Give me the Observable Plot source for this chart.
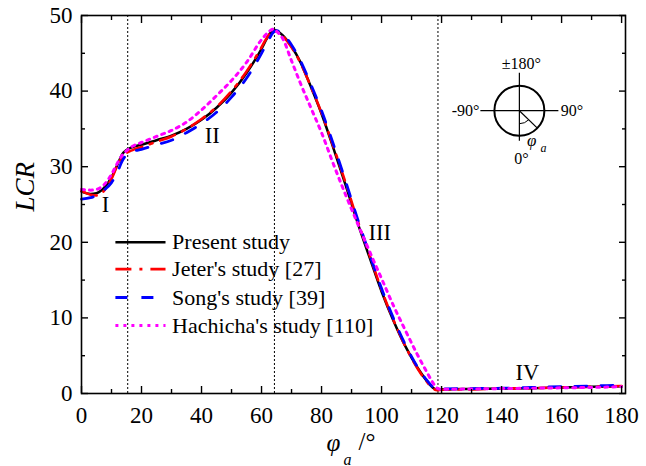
<!DOCTYPE html>
<html>
<head>
<meta charset="utf-8">
<script src="https://cdn.jsdelivr.net/npm/d3@7"></script>
<script src="https://cdn.jsdelivr.net/npm/@observablehq/plot@0.6"></script>
<style>
  html, body { margin: 0; padding: 0; background: #ffffff; }
  #chart { width: 646px; height: 466px; }
</style>
</head>
<body>
<div id="chart"></div>
<script>
// ---- Data ----
const phi = [0, 3, 5, 7.5, 10, 12, 13.5, 15, 17, 20, 25, 30, 35, 40, 45, 50, 55, 60, 62, 64, 65, 67, 70, 73, 76, 80, 84, 88, 92, 96, 100, 104, 108, 112, 115, 117, 118.5, 120, 130, 140, 150, 160, 170, 180];

const present = [26.7, 26.4, 26.5, 27.2, 28.6, 30.3, 31.6, 32.2, 32.6, 32.9, 33.5, 34.1, 35.0, 36.2, 37.8, 39.8, 42.4, 45.6, 47.1, 48.1, 48.0, 47.4, 45.9, 43.8, 41.0, 37.0, 32.4, 27.6, 22.6, 18.0, 13.5, 9.6, 6.2, 3.4, 1.7, 0.8, 0.5, 0.55, 0.6, 0.65, 0.7, 0.8, 0.9, 0.95];
const jeter   = [26.8, 26.3, 26.2, 26.8, 28.4, 30.2, 31.2, 31.8, 32.2, 32.6, 33.3, 34.0, 35.0, 36.3, 37.9, 40.0, 42.6, 45.8, 47.2, 48.0, 47.9, 47.3, 45.8, 43.7, 41.0, 37.1, 32.6, 27.9, 22.9, 18.3, 13.7, 9.7, 6.2, 3.3, 1.6, 0.7, 0.45, 0.5, 0.55, 0.65, 0.7, 0.8, 0.9, 1.0];
const song    = [25.7, 25.9, 26.2, 26.9, 27.9, 29.3, 30.7, 31.6, 32.0, 32.3, 32.9, 33.5, 34.5, 35.7, 37.2, 39.2, 41.7, 45.0, 46.5, 47.8, 48.0, 47.6, 46.1, 44.0, 41.3, 37.4, 32.9, 28.1, 23.1, 18.4, 13.9, 9.9, 6.4, 3.5, 1.8, 0.9, 0.55, 0.6, 0.65, 0.7, 0.8, 0.9, 1.0, 1.1];
const hachicha= [27.0, 26.9, 27.0, 27.6, 29.0, 30.5, 31.5, 32.1, 32.7, 33.2, 34.0, 34.8, 35.9, 37.5, 39.4, 41.4, 43.8, 46.8, 47.7, 48.2, 47.9, 47.0, 44.0, 41.0, 38.2, 34.5, 30.3, 26.3, 22.5, 18.8, 15.2, 11.6, 8.3, 5.1, 2.9, 1.5, 0.7, 0.55, 0.6, 0.65, 0.7, 0.75, 0.8, 0.9];

const seriesNames = ["Present study", "Jeter's study [27]", "Song's study [39]", "Hachicha's study [110]"];
const seriesValues = [present, jeter, song, hachicha];

const regionBounds = [15.4, 64.3, 118.8];
const regionLabels = ["I", "II", "III", "IV"];
const regionLabelPhi = [8, 43.6, 99.4, 148.6];
const regionLabelLcr = [24.9, 34.1, 21.3, 2.7];

const xMajor = [0, 20, 40, 60, 80, 100, 120, 140, 160, 180];
const xMinor = [10, 30, 50, 70, 90, 110, 130, 150, 170];
const yMajor = [0, 10, 20, 30, 40, 50];
const yMinor = [5, 15, 25, 35, 45];

// ---- Styles (kept apart from data) ----
const styles = [
  {stroke: "#000000", strokeWidth: 2.5, dash: null},
  {stroke: "#ff0000", strokeWidth: 2.6, dash: "16,8,3,8"},
  {stroke: "#0000ff", strokeWidth: 2.8, dash: "12,14"},
  {stroke: "#ff00ff", strokeWidth: 3, dash: "3,5"}
];

// legend layout in data space (inside plot area)
const legendX1 = 11.3, legendX2 = 28, legendTextX = 30.2;
const legendY = [20.0, 16.45, 12.7, 9.0];

// Build tables
const tables = seriesValues.map((vals, s) => vals.map((v, i) => ({series: seriesNames[s], phi: phi[i], lcr: v})));
const legendRows = seriesNames.map((n, i) => ({name: n, y: legendY[i], i}));
const regionRows = regionLabels.map((t, i) => ({t, x: regionLabelPhi[i], y: regionLabelLcr[i]}));

const tickOpts = {fill: "none", label: null, strokeWidth: 1.4};

const marks = [
  Plot.ruleX(regionBounds, {stroke: "black", strokeWidth: 1, strokeDasharray: "2,2"}),
  ...tables.map((rows, s) => Plot.line(rows, {
    x: "phi", y: "lcr", curve: "monotone-x",
    stroke: styles[s].stroke, strokeWidth: styles[s].strokeWidth,
    strokeDasharray: styles[s].dash
  })),
  // legend
  ...legendRows.map(r => Plot.link([r], {
    x1: () => legendX1, x2: () => legendX2, y1: "y", y2: "y",
    stroke: styles[r.i].stroke, strokeWidth: styles[r.i].strokeWidth,
    strokeDasharray: styles[r.i].dash
  })),
  Plot.text(legendRows, {x: () => legendTextX, y: "y", text: "name", textAnchor: "start", fontSize: 22, fill: "black"}),
  // region numerals
  Plot.text(regionRows, {x: "x", y: "y", text: "t", fontSize: 22.5, fill: "black"}),
  // ticks (inward)
  Plot.axisX(xMajor, {anchor: "bottom", tickSize: 7, dy: -7, ...tickOpts}),
  Plot.axisX(xMinor, {anchor: "bottom", tickSize: 4, dy: -4, ...tickOpts}),
  Plot.axisX(xMajor, {anchor: "top", tickSize: 7, dy: 7, ...tickOpts}),
  Plot.axisX(xMinor, {anchor: "top", tickSize: 4, dy: 4, ...tickOpts}),
  Plot.axisY(yMajor, {anchor: "left", tickSize: 7, dx: 7, ...tickOpts}),
  Plot.axisY(yMinor, {anchor: "left", tickSize: 4, dx: 4, ...tickOpts}),
  Plot.axisY(yMajor, {anchor: "right", tickSize: 7, dx: -7, ...tickOpts}),
  Plot.axisY(yMinor, {anchor: "right", tickSize: 4, dx: -4, ...tickOpts}),
  // tick labels
  Plot.axisX(xMajor, {anchor: "bottom", tickSize: 0, tickPadding: 13, fontSize: 23, label: null}),
  Plot.axisY(yMajor, {anchor: "left", tickSize: 0, tickPadding: 9, fontSize: 23, label: null}),
  // axis titles
  Plot.text(["LCR"], {frameAnchor: "left", rotate: -90, dx: -56, dy: 7, fontStyle: "italic", fontSize: 27, fill: "black"}),
  Plot.text(["φ"], {frameAnchor: "bottom", textAnchor: "start", dx: -27, dy: 57, fontStyle: "italic", fontSize: 25, fill: "black"}),
  Plot.text(["a"], {frameAnchor: "bottom", textAnchor: "start", dx: -10, dy: 71, fontStyle: "italic", fontSize: 16, fill: "black"}),
  Plot.text(["/°"], {frameAnchor: "bottom", textAnchor: "start", dx: 5, dy: 56, fontSize: 25, fill: "black"}),
  Plot.frame({stroke: "black", strokeWidth: 1.6})
];

const plot = Plot.plot({
  width: 646,
  height: 466,
  marginLeft: 81,
  marginRight: 21,
  marginTop: 15,
  marginBottom: 73,
  x: {domain: [0, 181.3]},
  y: {domain: [0, 50]},
  style: {fontFamily: "'Liberation Serif', 'Times New Roman', serif", fontSize: "23px", color: "black", background: "white"},
  marks
});

// ---- inset schematic (angle definition) ----
const insetCenter = [146.1, 37.34];
const cx = plot.scale("x").apply(insetCenter[0]);
const cy = plot.scale("y").apply(insetCenter[1]);
const svg = d3.select(plot);
const g = svg.append("g").attr("fill", "none").attr("stroke", "black");
g.append("line").attr("x1", cx).attr("x2", cx).attr("y1", cy - 38).attr("y2", cy + 30).attr("stroke-width", 1.2);
g.append("line").attr("x1", cx - 39).attr("x2", cx + 39).attr("y1", cy).attr("y2", cy).attr("stroke-width", 1.2);
g.append("circle").attr("cx", cx).attr("cy", cy).attr("r", 25).attr("stroke-width", 2);
const ang = 46 * Math.PI / 180;
g.append("line").attr("x1", cx).attr("y1", cy)
  .attr("x2", cx + 25 * Math.sin(ang)).attr("y2", cy + 25 * Math.cos(ang)).attr("stroke-width", 1.2);
const ar = 13;
g.append("path").attr("stroke-width", 1)
  .attr("d", `M${cx},${cy + ar} A${ar},${ar} 0 0 0 ${cx + ar * Math.sin(ang)},${cy + ar * Math.cos(ang)}`);
const tg = svg.append("g").attr("fill", "black").attr("font-family", "'Liberation Serif', 'Times New Roman', serif");
tg.append("text").attr("x", cx + 2).attr("y", cy - 41.4).attr("text-anchor", "middle").attr("font-size", 16).text("±180°");
tg.append("text").attr("x", cx - 40).attr("y", cy + 5.3).attr("text-anchor", "end").attr("font-size", 16).text("-90°");
tg.append("text").attr("x", cx + 41.4).attr("y", cy + 5.3).attr("text-anchor", "start").attr("font-size", 16).text("90°");
tg.append("text").attr("x", cx + 2).attr("y", cy + 53).attr("text-anchor", "middle").attr("font-size", 16).text("0°");
tg.append("text").attr("x", cx + 12.4).attr("y", cy + 35.5).attr("font-style", "italic").attr("font-size", 17).text("φ");
tg.append("text").attr("x", cx + 24).attr("y", cy + 41.5).attr("font-style", "italic").attr("font-size", 12).text("a");

document.getElementById("chart").appendChild(plot);
</script>
</body>
</html>
